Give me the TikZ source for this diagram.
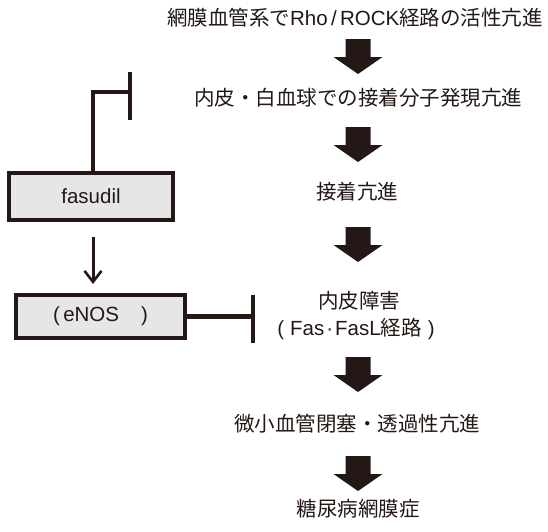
\documentclass[tikz,border=0pt]{standalone}
\usepackage{fontspec}
\setmainfont{Liberation Sans}
\newfontfamily\jp{Noto Sans CJK JP}
\usetikzlibrary{arrows.meta}
\definecolor{ink}{HTML}{231815}
\definecolor{boxgray}{HTML}{E6E6E6}
\begin{document}
\begin{tikzpicture}[x=1pt,y=-1pt,
  lbl/.style={font=\fontsize{20.5}{24}\selectfont, text=ink, inner sep=0pt, text height=15pt, text depth=3pt},
  grbox/.style={draw=ink, line width=3.8pt, fill=boxgray, inner sep=0pt, font=\fontsize{20.5}{24}\selectfont, text=ink},
  inhib/.style={draw=ink, line width=4.5pt},
  thinarrow/.style={draw=ink, line width=3pt, -{Straight Barb[length=11pt,width=17pt,line width=2.6pt]}},
  blockdown/.pic={\fill[ink] (-12.5,0) -- (12.5,0) -- (12.5,18) -- (24.5,18) -- (0,35) -- (-24.5,18) -- (-12.5,18) -- cycle;}
]
\useasboundingbox (0,0) rectangle (548,531);

% main chain
\node[lbl] (t1) at (355,19) {{\jp 網膜血管系で}Rho\,/\,ROCK{\jp 経路の活性亢進}};
\pic at (358,39) {blockdown};
\node[lbl] (t2) at (358,99) {\jp 内皮・白血球での接着分子発現亢進};
\pic at (358,127) {blockdown};
\node[lbl] (t3) at (357,193) {\jp 接着亢進};
\pic at (358,227) {blockdown};
\node[lbl] (t4a) at (359,302) {\jp 内皮障害};
\node[lbl] (t4b) at (356,329) {(\hspace{6pt}Fas\hspace{2pt}·\hspace{2pt}FasL{\jp 経路}\hspace{6pt})};
\pic at (358,357) {blockdown};
\node[lbl] (t5) at (357,425) {\jp 微小血管閉塞・透過性亢進};
\pic at (358,456) {blockdown};
\node[lbl] (t6) at (358,510) {\jp 糖尿病網膜症};

% left side
\node[grbox, minimum width=164pt, minimum height=47pt] (fas) at (91,196.5) {fasudil};
\node[grbox, minimum width=169pt, minimum height=43pt] (enos) at (100.5,316.5) {(\,eNOS\hspace{22pt})};

% fasudil inhibition of top
\coordinate (c1) at (93,92);
\coordinate (b1) at (130,72);
\coordinate (b2) at (130,120);
\draw[inhib] (fas.north -| c1) -- (c1) -- (c1 -| b1);
\draw[inhib] (b1) -- (b2);

% fasudil -> eNOS
\coordinate (a1) at (93,237);
\coordinate (a2) at (93,284);
\draw[thinarrow] (a1) -- (a2);

% eNOS inhibition
\coordinate (b3) at (253,295);
\coordinate (b4) at (253,343);
\draw[inhib] (enos.east) -- (enos.east -| b3);
\draw[inhib] (b3) -- (b4);
\end{tikzpicture}
\end{document}
